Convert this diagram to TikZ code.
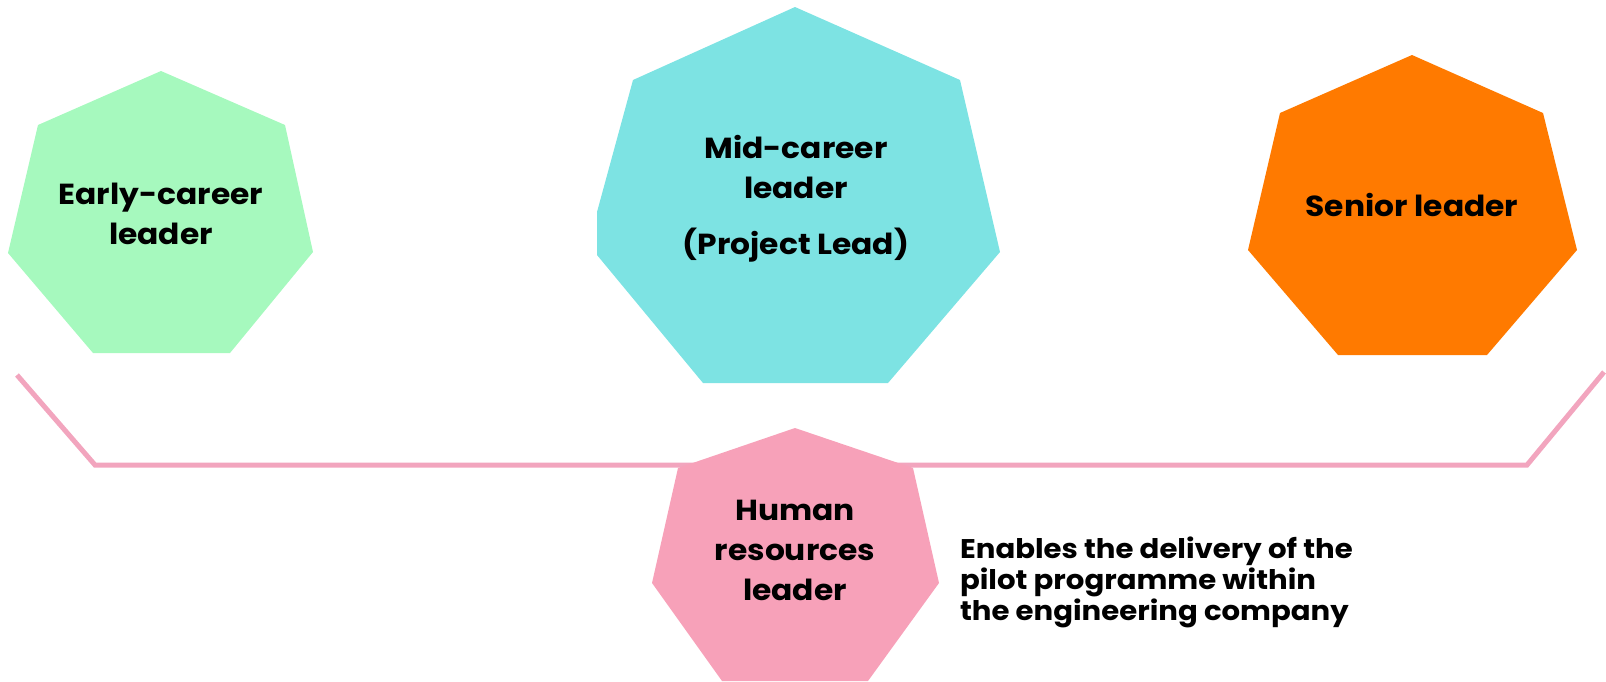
\documentclass[tikz,border=0pt]{standalone}
\usepackage{fontspec}
\setmainfont{Poppins}[FakeStretch=1.08]
\definecolor{earlygreen}{HTML}{A6F9BE}
\definecolor{midcyan}{HTML}{7DE3E3}
\definecolor{seniororange}{HTML}{FF7A00}
\definecolor{hrpink}{HTML}{F7A1B9}
\definecolor{bracketpink}{HTML}{F2A5BE}

\begin{document}
\begin{tikzpicture}[x=0.5pt, y=-0.5pt,
    rolelabel/.style={font=\bfseries\fontsize{14.5}{20}\selectfont, align=center, text=black},
    notelabel/.style={font=\bfseries\fontsize{13.5}{15.5}\selectfont, align=left, text=black, anchor=west}]
    \useasboundingbox (0,0) rectangle (1606,681);

    % Bracket
    \coordinate (bl) at (17,375);
    \coordinate (br) at (1604,372);
    \draw[bracketpink, line width=2.5pt] (bl) -- (95,465) -- (1527,465) -- (br);

    % Early-career leader
    \fill[earlygreen] (161,71) -- (285,125) -- (313,252) -- (230,353) -- (93,353) -- (8,253) -- (38,125) -- cycle;
    \node[rolelabel] (early) at (161,214) {Early-career\\leader};

    % Mid-career leader
    \fill[midcyan] (795,7) -- (960,80) -- (1000,252) -- (888,383) -- (703,383) -- (597,255) -- (597,212) -- (633,80) -- cycle;
    \node[rolelabel] (mid) at (796,199) {Mid-career\\leader\\[8pt](Project Lead)};

    % Senior leader
    \fill[seniororange] (1412,55) -- (1543,113) -- (1577,250) -- (1487,355) -- (1338,355) -- (1248,250) -- (1280,113) -- cycle;
    \node[rolelabel] (senior) at (1412,205) {Senior leader};

    % Human resources leader
    \fill[hrpink] (795,428) -- (913,468) -- (939,583) -- (868,681) -- (722,681) -- (652,583) -- (678,468) -- cycle;
    \node[rolelabel] (hr) at (795,550) {Human\\resources\\leader};
    \node[notelabel] (hrnote) at (953,582) {Enables the delivery of the\\pilot programme within\\the engineering company};
\end{tikzpicture}
\end{document}
